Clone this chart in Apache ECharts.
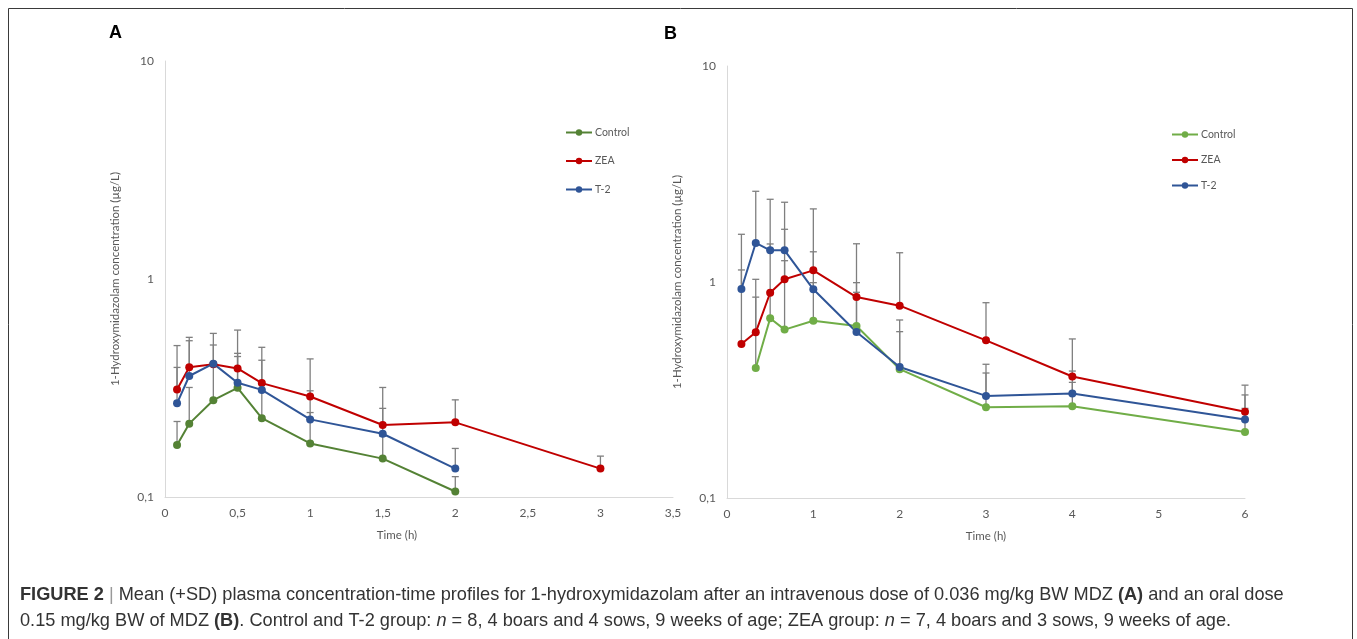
<!DOCTYPE html>
<html><head><meta charset="utf-8">
<script src="https://cdn.jsdelivr.net/npm/echarts@6/dist/echarts.min.js"></script>
<style>html,body{margin:0;padding:0;background:#fff}#c{width:1357px;height:639px}</style>
</head><body><div id="c"></div>
<script>
// ---- Panel A (intravenous) ----
const timesA = [0.083, 0.167, 0.333, 0.5, 0.667, 1, 1.5, 2, 3];
const controlA = [0.173, 0.217, 0.278, 0.317, 0.230, 0.176, 0.150, 0.106, null];
const zeaA = [0.311, 0.394, 0.406, 0.389, 0.333, 0.289, 0.214, 0.220, 0.135];
const t2A = [0.269, 0.359, 0.409, 0.334, 0.310, 0.227, 0.195, 0.135, null];
const controlA_sd = [0.049, 0.101, 0.122, 0.124, 0.080, 0.068, 0.040, 0.018, null];
const zeaA_sd = [0.184, 0.146, 0.157, 0.194, 0.153, 0.141, 0.104, 0.059, 0.019];
const t2A_sd = [0.124, 0.162, 0.089, 0.122, 0.114, 0.080, 0.060, 0.032, null];
// ---- Panel B (oral) ----
const timesB = [0.167, 0.333, 0.5, 0.667, 1, 1.5, 2, 3, 4, 6];
const controlB = [null, 0.400, 0.679, 0.602, 0.662, 0.626, 0.395, 0.263, 0.266, 0.202];
const zeaB = [0.516, 0.585, 0.892, 1.029, 1.132, 0.852, 0.777, 0.537, 0.365, 0.251];
const t2B = [0.928, 1.516, 1.402, 1.402, 0.925, 0.587, 0.404, 0.297, 0.305, 0.231];
const controlB_sd = [null, 0.451, 0.221, 0.653, 0.331, 0.367, 0.194, 0.116, 0.077, 0.058];
const zeaB_sd = [0.621, 0.444, 0.608, 0.725, 1.048, 0.651, 0.589, 0.265, 0.180, 0.082];
const t2B_sd = [0.735, 1.114, 1.013, 0.938, 0.455, 0.309, 0.263, 0.119, 0.082, 0.069];

const seriesNames = ['Control', 'ZEA', 'T-2'];
const yTitle = '1-Hydroxymidazolam concentration (µg/L)';
const xTitle = 'Time (h)';
const caption1 = 'Mean (+SD) plasma concentration-time profiles for 1-hydroxymidazolam after an intravenous dose of 0.036 mg/kg BW MDZ ';
const caption2a = '0.15 mg/kg BW of MDZ ';
const caption2b = '. Control and T-2 group: ';

const colA = ['#548235', '#c00000', '#2f5597'];
const colB = ['#70ad47', '#c00000', '#2f5597'];
const FONT = 'Lato, "Noto Sans", sans-serif';
const CAP = '"Liberation Sans", Arial, sans-serif';

function pairs(t, v) { return t.map((x, i) => [x, v[i]]).filter(p => p[1] != null); }
function errPairs(t, v, sd) { return t.map((x, i) => [x, v[i], v[i] != null ? v[i] + sd[i] : null]).filter(p => p[1] != null); }

function errRender(params, api) {
  const p0 = api.coord([api.value(0), api.value(1)]);
  const p1 = api.coord([api.value(0), api.value(2)]);
  const st = { stroke: '#7f7f7f', lineWidth: 1.3 };
  return { type: 'group', children: [
    { type: 'line', shape: { x1: p0[0], y1: p0[1], x2: p1[0], y2: p1[1] }, style: st },
    { type: 'line', shape: { x1: p1[0] - 3.5, y1: p1[1], x2: p1[0] + 3.5, y2: p1[1] }, style: st }
  ]};
}

const comma = v => String(v).replace('.', ',');

function xAxis(gi, max, interval, pad) {
  return { type: 'value', gridIndex: gi, min: 0, max: max, interval: interval,
    name: xTitle, nameLocation: 'middle', nameGap: 32,
    nameTextStyle: { color: '#595959', fontSize: 11.5, fontFamily: FONT, padding: pad },
    axisLine: { lineStyle: { color: '#d9d9d9', width: 1 } }, axisTick: { show: false },
    splitLine: { show: false },
    axisLabel: { color: '#595959', fontSize: 12, fontFamily: FONT, formatter: comma, margin: 10 } };
}
function yAxis(gi) {
  return { type: 'log', logBase: 10, gridIndex: gi, min: 0.1, max: 10,
    name: yTitle, nameLocation: 'middle', nameGap: 44, nameRotate: 90,
    nameTextStyle: { color: '#595959', fontSize: 11.5, fontFamily: FONT },
    axisLine: { show: true, lineStyle: { color: '#d9d9d9', width: 1 } }, axisTick: { show: false },
    splitLine: { show: false }, minorTick: { show: false },
    axisLabel: { color: '#595959', fontSize: 12, fontFamily: FONT, formatter: comma, margin: 11 } };
}

const series = [];
const dataA = [controlA, zeaA, t2A], sdA = [controlA_sd, zeaA_sd, t2A_sd];
const dataB = [controlB, zeaB, t2B], sdB = [controlB_sd, zeaB_sd, t2B_sd];
[[timesA, dataA, sdA, colA, 0], [timesB, dataB, sdB, colB, 1]].forEach(([t, d, sd, col, gi]) => {
  d.forEach((vals, k) => {
    series.push({ type: 'custom', xAxisIndex: gi, yAxisIndex: gi, z: 1, silent: true,
      renderItem: errRender, encode: { x: 0, y: [1, 2] }, data: errPairs(t, vals, sd[k]) });
  });
  d.forEach((vals, k) => {
    series.push({ type: 'line', name: seriesNames[k], xAxisIndex: gi, yAxisIndex: gi, z: 3,
      data: pairs(t, vals), symbol: 'circle', symbolSize: 8, showSymbol: true,
      lineStyle: { color: col[k], width: 2 }, itemStyle: { color: col[k] } });
  });
});

function legend(left, top, gap, col) {
  return { orient: 'vertical', left: left, top: top, itemGap: gap, itemWidth: 26, itemHeight: 8,
    selectedMode: false,
    textStyle: { color: '#595959', fontSize: 10.5, fontFamily: FONT, padding: [0, 0, 0, -2] },
    data: seriesNames.map((n, i) => ({ name: n, itemStyle: { color: col[i] }, lineStyle: { color: col[i], width: 2 } })) };
}

const chart = echarts.init(document.getElementById('c'), null, { renderer: 'canvas' });
chart.setOption({
  animation: false,
  backgroundColor: '#fff',
  grid: [
    { left: 165, right: 684, top: 61, bottom: 142 },
    { left: 727, right: 112, top: 66, bottom: 141 }
  ],
  xAxis: [xAxis(0, 3.5, 0.5, [0, 44, 0, 0]), xAxis(1, 6, 1, [0, 0, 0, 0])],
  yAxis: [yAxis(0), yAxis(1)],
  legend: [legend(560, 122, 17.5, colA), legend(1166, 124, 14.5, colB)],
  series: series,
  graphic: [
    { type: 'rect', shape: { x: 8.5, y: 8.5, width: 1344, height: 640 }, style: { fill: 'none', stroke: '#3a3a3a', lineWidth: 1 }, silent: true },
    { type: 'text', left: 109, top: 24, style: { text: 'A', font: 'bold 18px "Liberation Sans", Arial, sans-serif', fill: '#000' } },
    { type: 'text', left: 664, top: 25, style: { text: 'B', font: 'bold 18px "Liberation Sans", Arial, sans-serif', fill: '#000' } },
    { type: 'text', left: 20, top: 586, style: {
        text: '{b|FIGURE 2 }{p||}{n| ' + caption1 + '}{b|(A)}{n| and an oral dose}',
        rich: {
          b: { fontFamily: CAP, fontSize: 18.2, fontWeight: 'bold', fill: '#333' },
          p: { fontFamily: CAP, fontSize: 18.2, fill: '#999' },
          n: { fontFamily: CAP, fontSize: 18.2, fill: '#333' }
        } } },
    { type: 'text', left: 20, top: 612, style: {
        text: '{n|' + caption2a + '}{b|(B)}{n|' + caption2b + '}{i|n}{n| = 8, 4 boars and 4 sows, 9 weeks of age; ZEA group: }{i|n}{n| = 7, 4 boars and 3 sows, 9 weeks of age.}',
        rich: {
          b: { fontFamily: CAP, fontSize: 18.2, fontWeight: 'bold', fill: '#333' },
          i: { fontFamily: CAP, fontSize: 18.2, fontStyle: 'italic', fill: '#333' },
          n: { fontFamily: CAP, fontSize: 18.2, fill: '#333' }
        } } }
  ]
});
</script>
</body></html>
